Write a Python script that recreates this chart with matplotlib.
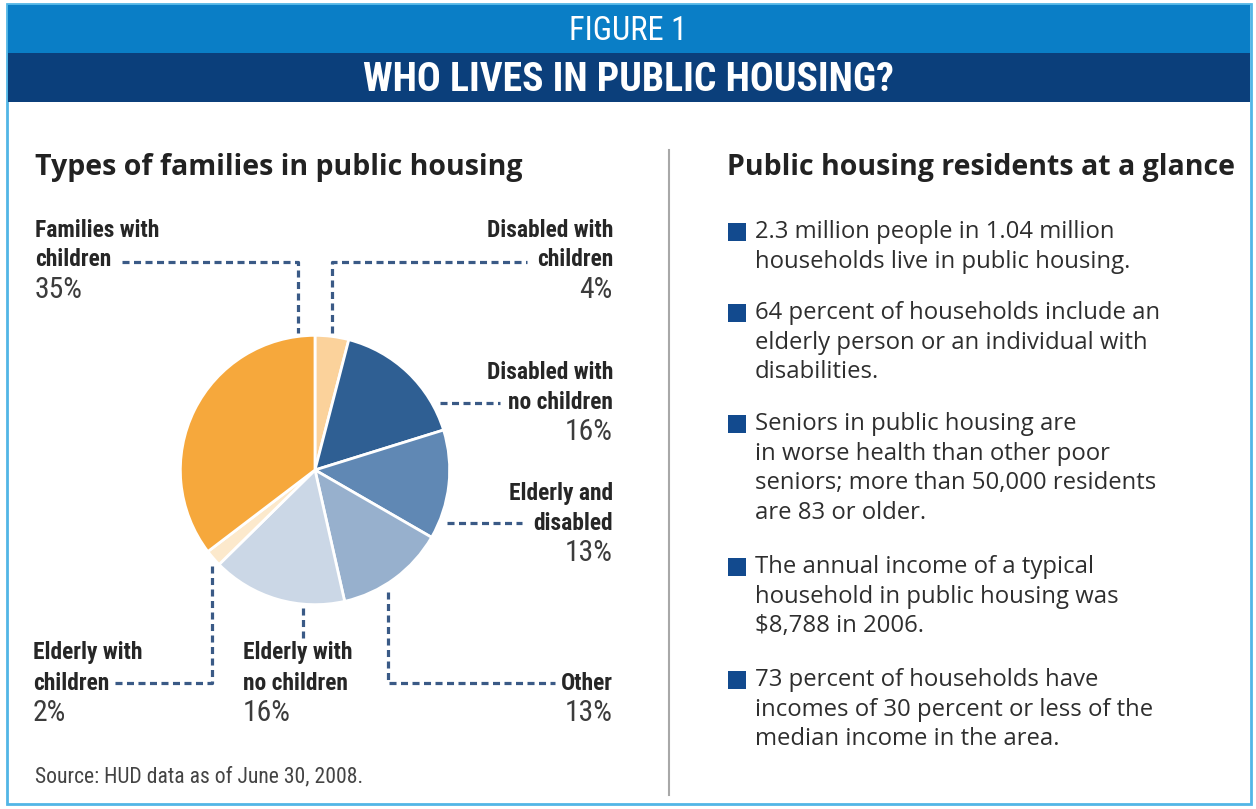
import matplotlib
matplotlib.use("Agg")
import matplotlib.pyplot as plt
from matplotlib import font_manager as fm
from matplotlib.patches import Rectangle

# ---------------- data ----------------
categories = ["Disabled with children", "Disabled with no children", "Elderly and disabled",
              "Other", "Elderly with no children", "Elderly with children", "Families with children"]
shares = [4, 16, 13, 13, 16, 2, 35]
slice_colors = ["#FBD29B", "#2F5F93", "#6088B4", "#97B0CD", "#CBD7E6", "#FCE9CC", "#F6A83C"]

bullets = [
    ["2.3 million people in 1.04 million", "households live in public housing."],
    ["64 percent of households include an", "elderly person or an individual with", "disabilities."],
    ["Seniors in public housing are", "in worse health than other poor",
     "seniors; more than 50,000 residents", "are 83 or older."],
    ["The annual income of a typical", "household in public housing was", "$8,788 in 2006."],
    ["73 percent of households have", "incomes of 30 percent or less of the",
     "median income in the area."],
]

# ---------------- fonts ----------------
def have(name):
    try:
        fm.findfont(fm.FontProperties(family=name), fallback_to_default=False)
        return True
    except Exception:
        return False

narrow = next((f for f in ["Liberation Sans Narrow", "DejaVu Sans Condensed", "Roboto Condensed",
                           "Open Sans Condensed", "Liberation Sans"] if have(f)), "DejaVu Sans")
body = next((f for f in ["Open Sans", "Lato", "Noto Sans", "DejaVu Sans"] if have(f)), "DejaVu Sans")

W, H = 1256, 809
fig = plt.figure(figsize=(W / 100, H / 100), dpi=100, facecolor="white")
ov = fig.add_axes([0, 0, 1, 1])
ov.set_xlim(0, W)
ov.set_ylim(H, 0)
ov.axis("off")
renderer = fig.canvas.get_renderer()


def fit_size(text, family, weight, target, start=20):
    t = ov.text(0, 0, text, fontsize=start, family=family, fontweight=weight)
    w = t.get_window_extent(renderer).width
    t.remove()
    return start * target / w


# ---------------- frame & header ----------------
ov.add_patch(Rectangle((7, 4), W - 12, H - 9, facecolor="white", edgecolor="#52B6E6", lw=2, zorder=0))
ov.add_patch(Rectangle((8, 5), W - 14, 48, facecolor="#0A7EC6", edgecolor="none", zorder=1))
ov.add_patch(Rectangle((8, 53), W - 14, 49, facecolor="#0B3F7B", edgecolor="none", zorder=1))

fs_fig = fit_size("FIGURE 1", narrow, "normal", 118)
ov.text(628, 31, "FIGURE 1", color="white", fontsize=fs_fig, family=narrow,
        ha="center", va="center", zorder=2)
fs_head = fit_size("WHO LIVES IN PUBLIC HOUSING?", narrow, "bold", 531)
ov.text(628, 80, "WHO LIVES IN PUBLIC HOUSING?", color="white", fontsize=fs_head,
        family=narrow, fontweight="bold", ha="center", va="center", zorder=2)

# divider
ov.plot([669, 669], [150, 795], color="#A8A8A8", lw=1.5, zorder=1)

# section titles
fs_title = fit_size("Types of families in public housing", body, "bold", 487)
ov.text(35, 167, "Types of families in public housing", fontsize=fs_title, family=body,
        fontweight="bold", color="#222222", va="center", ha="left", zorder=2)
ov.text(727, 167, "Public housing residents at a glance", fontsize=fs_title, family=body,
        fontweight="bold", color="#222222", va="center", ha="left", zorder=2)

# ---------------- pie ----------------
cx, cy, r = 315, 470, 136
pax = fig.add_axes([(cx - r) / W, (H - cy - r) / H, 2 * r / W, 2 * r / H])
pax.pie(shares, colors=slice_colors, startangle=90, counterclock=False, radius=1,
        wedgeprops=dict(edgecolor="white", linewidth=2))
pax.set_xlim(-1.01, 1.01)
pax.set_ylim(-1.01, 1.01)
pax.set_zorder(3)

# ---------------- leader lines ----------------
lk = dict(color="#3A5A86", lw=2.3, linestyle=(0, (2.2, 1.4)), zorder=2)
ov.plot([122, 298, 298], [262, 262, 333], **lk)
ov.plot([332, 332, 527], [333, 262, 262], **lk)
ov.plot([440, 500], [403, 403], **lk)
ov.plot([447, 522], [523, 523], **lk)
ov.plot([388, 388, 555], [592, 683, 683], **lk)
ov.plot([303, 303], [608, 638], **lk)
ov.plot([212, 212, 114], [566, 683, 683], **lk)

# ---------------- labels ----------------
fs_lab = fit_size("Families with", narrow, "bold", 124)
fs_pct = fit_size("35%", narrow, "normal", 48)
lab_c, pct_c = "#262626", "#3C3C3C"


def label(x, y0, l1, l2, pct, ha):
    ov.text(x, y0, l1, fontsize=fs_lab, family=narrow, fontweight="bold", color=lab_c,
            ha=ha, va="center", zorder=4)
    ov.text(x, y0 + 30, l2, fontsize=fs_lab, family=narrow, fontweight="bold", color=lab_c,
            ha=ha, va="center", zorder=4)
    ov.text(x, y0 + 60, pct, fontsize=fs_pct, family=narrow, color=pct_c,
            ha=ha, va="center", zorder=4)


def pct_txt(v):
    return f"{v}%"


label(35, 230, "Families with", "children", pct_txt(shares[6]), "left")
label(613, 230, "Disabled with", "children", pct_txt(shares[0]), "right")
label(613, 372, "Disabled with", "no children", pct_txt(shares[1]), "right")
label(613, 493, "Elderly and", "disabled", pct_txt(shares[2]), "right")
ov.text(613, 683, "Other", fontsize=fs_lab, family=narrow, fontweight="bold", color=lab_c,
        ha="right", va="center", zorder=4)
ov.text(613, 713, pct_txt(shares[3]), fontsize=fs_pct, family=narrow, color=pct_c,
        ha="right", va="center", zorder=4)
label(243, 653, "Elderly with", "no children", pct_txt(shares[4]), "left")
label(33, 653, "Elderly with", "children", pct_txt(shares[5]), "left")

# source
fs_src = fit_size("Source: HUD data as of June 30, 2008.", narrow, "normal", 328)
ov.text(35, 777, "Source: HUD data as of June 30, 2008.", fontsize=fs_src, family=narrow,
        color="#444444", va="center", ha="left", zorder=4)

# ---------------- bullets ----------------
fs_body = fit_size("64 percent of households include an", body, "normal", 405)
starts = [232, 313, 424, 567, 680]
for y0, lines in zip(starts, bullets):
    ov.add_patch(Rectangle((728, y0 - 9), 18, 18, facecolor="#124A8E", edgecolor="none", zorder=4))
    for i, line in enumerate(lines):
        ov.text(755, y0 + i * 29.7, line, fontsize=fs_body, family=body, color="#2E2E2E",
                va="center", ha="left", zorder=4)

fig.savefig("out.png", dpi=100, facecolor="white")
